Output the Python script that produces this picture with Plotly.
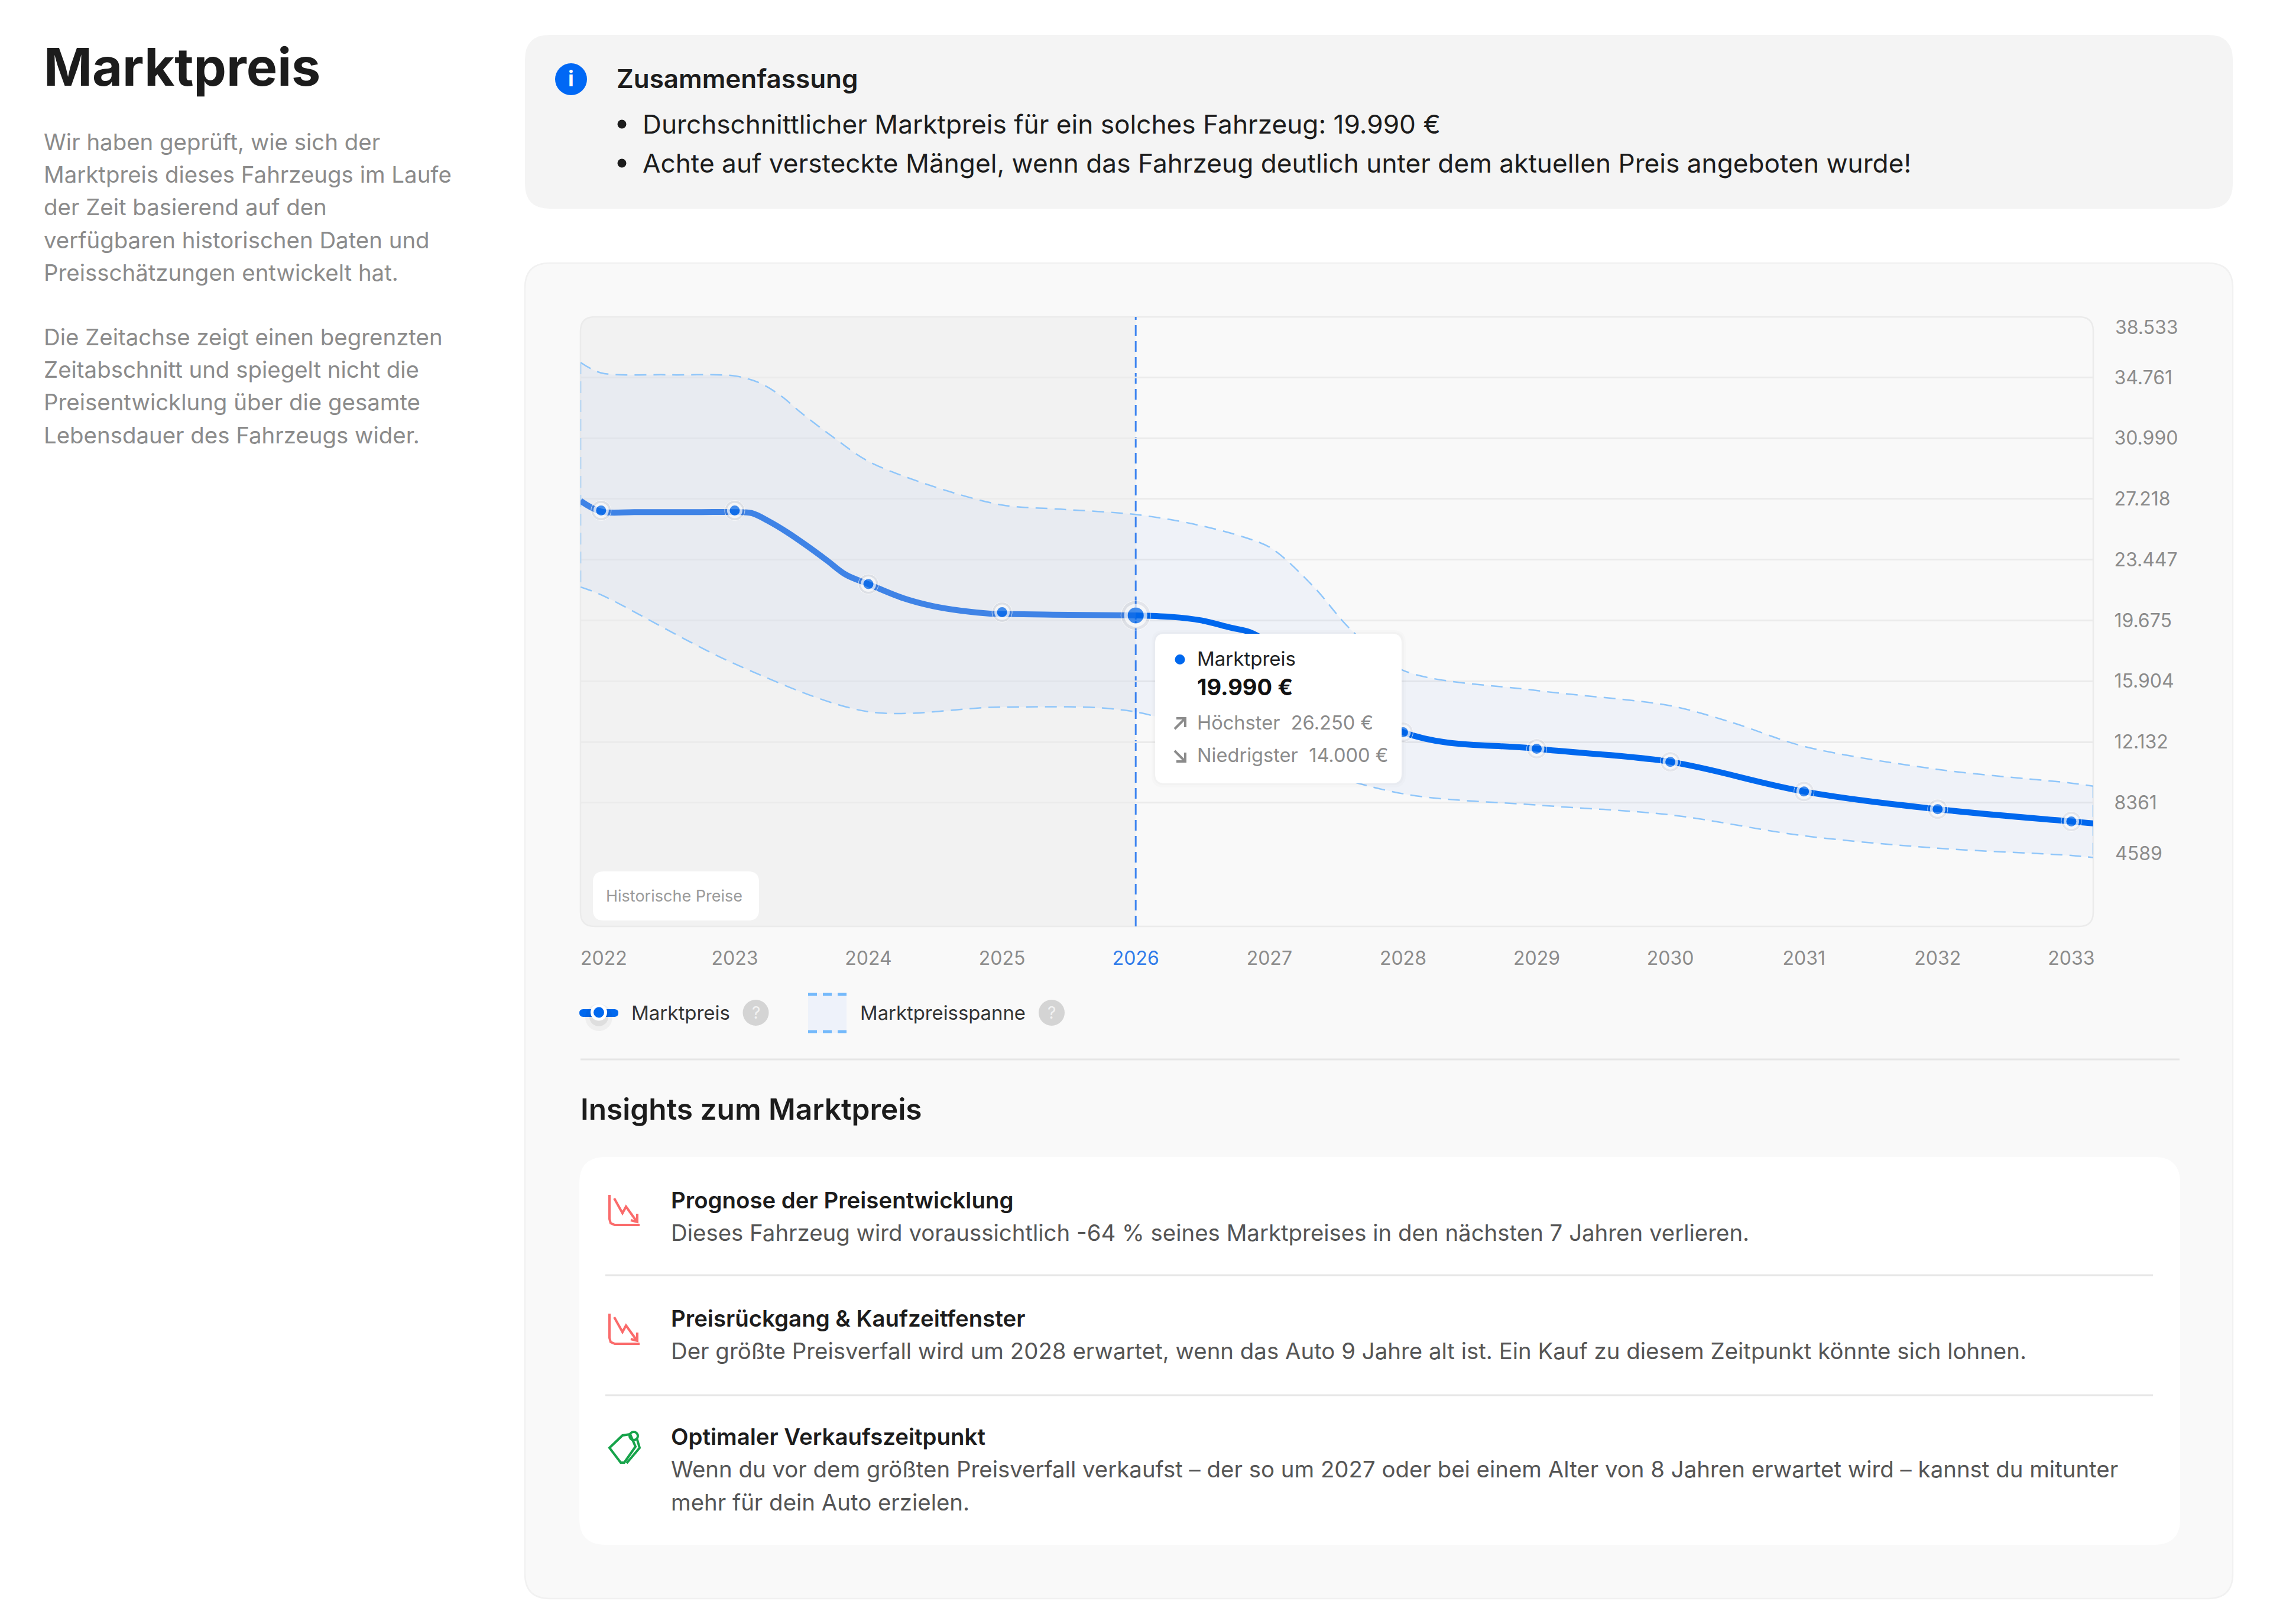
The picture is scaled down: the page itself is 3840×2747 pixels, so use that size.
# %% Imports
import plotly.graph_objects as go

# %% Data
W, H = 3840, 2747
FONT = "Inter"

BLUE = "#0068ee"
BLUE_HIST = "#3f83e6"
BAND_LINE = "#8fc6fa"
GREY = "#8b8b8b"
DARK = "#1c1c1c"
RED = "#fa6b6b"
GREEN = "#16a34a"

years = [2022, 2023, 2024, 2025, 2026, 2027, 2028, 2029, 2030, 2031, 2032, 2033]
x_left, x_right = 2021.846, 2033.164

market = [26500, 26500, 21930, 20190, 19990, 18000, 12740, 11710, 10900, 9060, 7960, 7200]

# curve readings between the years, the line is flat then drops in an S
market_hist_x = [2021.846, 2022, 2022.25, 2022.5, 2022.75, 2023, 2023.13, 2023.25, 2023.39, 2023.54, 2023.69, 2023.83,
                 2024, 2024.26, 2024.48, 2024.7, 2024.91, 2025, 2025.5, 2026]
market_hist_y = [27100, 26430, 26400, 26400, 26400, 26400, 26330, 25850, 25160, 24310, 23400, 22520,
                 21930, 21060, 20570, 20270, 20100, 20080, 20020, 19990]
market_next_x = [2026, 2026.26, 2026.49, 2026.71, 2026.85, 2027, 2028, 2029, 2030, 2031, 2032, 2033, 2033.164]
market_next_y = [19990, 19900, 19680, 19230, 18960, 18300, 12740, 11710, 10900, 9060, 7960, 7200, 7080]

high_x = [2021.846, 2022, 2022.5, 2023, 2023.19, 2023.35, 2023.5, 2023.74, 2024, 2024.49, 2025, 2025.44, 2026, 2026.42,
          2026.82, 2027.02, 2027.33, 2027.61, 2028, 2029, 2030, 2030.47, 2031, 2032, 2033, 2033.164]
high_y = [35690, 35040, 34920, 34850, 34400, 33590, 32540, 31030, 29550, 27980, 26840, 26580, 26250, 25680,
          24820, 24130, 21780, 19100, 16580, 15330, 14380, 13320, 11860, 10430, 9580, 9390]
low_x = [2021.846, 2022, 2023, 2024, 2025, 2026, 2027, 2028, 2029, 2030, 2031, 2032, 2033, 2033.164]
low_y = [21750, 21270, 16980, 14010, 14300, 14000, 11220, 8920, 8220, 7610, 6310, 5540, 5090, 4960]

y_ticks = [34761, 30990, 27218, 23447, 19675, 15904, 12132, 8361]
y_tick_labels = ["34.761", "30.990", "27.218", "23.447", "19.675", "15.904", "12.132", "8361"]
y_top, y_top_label = 38533, "38.533"
y_bottom, y_bottom_label = 4589, "4589"
y_min = 670

intro_1 = [
    "Wir haben geprüft, wie sich der",
    "Marktpreis dieses Fahrzeugs im Laufe",
    "der Zeit basierend auf den",
    "verfügbaren historischen Daten und",
    "Preisschätzungen entwickelt hat.",
]
intro_2 = [
    "Die Zeitachse zeigt einen begrenzten",
    "Zeitabschnitt und spiegelt nicht die",
    "Preisentwicklung über die gesamte",
    "Lebensdauer des Fahrzeugs wider.",
]
summary = [
    "Durchschnittlicher Marktpreis für ein solches Fahrzeug: 19.990 €",
    "Achte auf versteckte Mängel, wenn das Fahrzeug deutlich unter dem aktuellen Preis angeboten wurde!",
]
insights = [
    ("Prognose der Preisentwicklung", 2030,
     ["Dieses Fahrzeug wird voraussichtlich -64 % seines Marktpreises in den nächsten 7 Jahren verlieren."]),
    ("Preisrückgang & Kaufzeitfenster", 2230,
     ["Der größte Preisverfall wird um 2028 erwartet, wenn das Auto 9 Jahre alt ist. Ein Kauf zu diesem Zeitpunkt könnte sich lohnen."]),
    ("Optimaler Verkaufszeitpunkt", 2430,
     ["Wenn du vor dem größten Preisverfall verkaufst – der so um 2027 oder bei einem Alter von 8 Jahren erwartet wird – kannst du mitunter",
      "mehr für dein Auto erzielen."]),
]


# %% Helpers
def fx(x):
    return x / W


def fy(y):
    return 1 - y / H


def pt(x, y):
    return f"{fx(x):.6f},{fy(y):.6f}"


def rrect_path(x0, y0, x1, y1, r, right=True):
    # rounded box in page pixels, right=False keeps the right corners square
    rr = r if right else 0
    return (
        f"M{pt(x0 + r, y0)} L{pt(x1 - rr, y0)} Q{pt(x1, y0)} {pt(x1, y0 + rr)} "
        f"L{pt(x1, y1 - rr)} Q{pt(x1, y1)} {pt(x1 - rr, y1)} L{pt(x0 + r, y1)} "
        f"Q{pt(x0, y1)} {pt(x0, y1 - r)} L{pt(x0, y0 + r)} Q{pt(x0, y0)} {pt(x0 + r, y0)} Z"
    )


shapes = []
annotations = []


def box(x0, y0, x1, y1, r, fill, line=None, layer="below", right=True, width=2.5):
    shapes.append(dict(
        type="path", xref="paper", yref="paper", layer=layer,
        path=rrect_path(x0, y0, x1, y1, r, right), fillcolor=fill,
        line=dict(color=line or "rgba(0,0,0,0)", width=width),
    ))


def stroke(points, color, width=3, dash="solid", layer="below", close=False):
    path = "M" + " L".join(pt(x, y) for x, y in points) + (" Z" if close else "")
    shapes.append(dict(
        type="path", xref="paper", yref="paper", layer=layer, path=path,
        line=dict(color=color, width=width, dash=dash),
    ))


def dot(cx, cy, r, fill, layer="below", line=None, width=0):
    shapes.append(dict(
        type="circle", xref="paper", yref="paper", layer=layer,
        x0=fx(cx - r), x1=fx(cx + r), y0=fy(cy + r), y1=fy(cy - r), fillcolor=fill,
        line=dict(color=line or "rgba(0,0,0,0)", width=width),
    ))


def label(x, y, text, size, color, weight=400, xanchor="left"):
    annotations.append(dict(
        xref="paper", yref="paper", x=fx(x - 2 if xanchor == "left" else x), y=fy(y), text=text, showarrow=False,
        xanchor=xanchor, yanchor="middle", align="left",
        font=dict(family=FONT, size=size, color=color, weight=weight),
    ))


# %% Page furniture
box(888, 59, 3777, 353, 42, "#f4f4f4")
box(888, 445, 3777, 2704, 42, "#f9f9f9", "#f1f1f1")
box(982, 536, 1921, 1567, 24, "#f2f2f2", right=False)
box(982, 536, 3541, 1567, 24, "rgba(0,0,0,0)", "#ebebeb")
box(980, 1957, 3688, 2613, 44, "#ffffff")

label(74, 113, "Marktpreis", 88, DARK, 700)
for i, line in enumerate(intro_1):
    label(74, 240 + i * 55.2, line, 38.4, GREY)
for i, line in enumerate(intro_2):
    label(74, 570 + i * 55.2, line, 38.4, GREY)

dot(966, 134, 27, "#0068f5")
label(966, 133, "i", 36, "#ffffff", 700, xanchor="center")
label(1043, 133, "Zusammenfassung", 44, DARK, 600)
for y, line in zip([210, 276], summary):
    dot(1052, y, 7.5, DARK)
    label(1087, y, line, 44.2, DARK)

# legend
box(980, 1707, 1046, 1720, 6.5, BLUE)
dot(1013, 1721, 23, "rgba(0,0,0,0.04)")
dot(1013, 1720, 16, "rgba(0,0,0,0.07)")
dot(1013, 1712.5, 14, "#ffffff")
dot(1013, 1712.5, 9, BLUE)
label(1068, 1713, "Marktpreis", 33, "#333333")
dot(1278.5, 1713, 22, "#d4d4d4")
label(1278.5, 1713, "?", 28, "#f2f2f2", xanchor="center")
shapes.append(dict(type="rect", xref="paper", yref="paper", layer="below",
                   x0=fx(1367), x1=fx(1432), y0=fy(1747), y1=fy(1680),
                   fillcolor="#eef2fa", line=dict(width=0)))
stroke([(1367, 1682), (1432, 1682)], "#74b9fb", 5, "15px,10px")
stroke([(1367, 1745), (1432, 1745)], "#74b9fb", 5, "15px,10px")
label(1455, 1713, "Marktpreisspanne", 32.8, "#333333")
dot(1779, 1713, 22, "#d4d4d4")
label(1779, 1713, "?", 28, "#f2f2f2", xanchor="center")

stroke([(982, 1792), (3687, 1792)], "#e6e6e6", 3)
label(982, 1876, "Insights zum Marktpreis", 49.6, DARK, 600)

# insights
for title, y, lines in insights:
    label(1135, y, title, 38.4, DARK, 600)
    for i, line in enumerate(lines):
        label(1135, y + 55 + i * 55.5, line, 38.4, "#555555")
for y in [2157, 2360]:
    stroke([(1024, y), (3642, y)], "#e6e6e6", 3)

for dy in [0, 201]:
    stroke([(1031, 2021 + dy), (1031, 2062 + dy), (1033, 2069 + dy), (1040, 2072 + dy), (1082, 2072 + dy)], RED, 4)
    stroke([(1039, 2027 + dy), (1053, 2052 + dy), (1059, 2041 + dy), (1077, 2066 + dy)], RED, 4)
    stroke([(1067, 2064 + dy), (1078, 2067 + dy), (1078, 2053 + dy)], RED, 4)
stroke([(1031, 2449), (1053, 2428), (1066, 2426), (1075, 2447), (1056, 2474), (1050, 2474)], GREEN, 4, close=True)
stroke([(1060, 2475), (1082, 2449), (1077, 2432)], GREEN, 4)
dot(1072, 2429, 7, "rgba(0,0,0,0)", line=GREEN, width=4)

# history chip
box(1003, 1474, 1284, 1557, 18, "#ffffff")
label(1025, 1515, "Historische Preise", 27, "#9a9a9a")

# tooltip, sits over the traces
box(1948, 1066, 2378, 1332, 20, "rgba(0,0,0,0.012)", layer="above")
box(1951, 1069, 2375, 1328, 18, "rgba(0,0,0,0.015)", layer="above")
box(1954, 1072, 2371, 1325, 16, "#ffffff", layer="above")
dot(1996, 1115.5, 8.5, BLUE, layer="above")
label(2025, 1114, "Marktpreis", 33, "#222222")
label(2025, 1162, "19.990 €", 38, "#111111", 700)
stroke([(1987, 1233), (2005, 1215)], GREY, 4, layer="above")
stroke([(1990, 1215), (2005, 1215), (2005, 1230)], GREY, 4, layer="above")
label(2025, 1222, "Höchster  26.250 €", 32.6, GREY)
stroke([(1987, 1270), (2005, 1288)], GREY, 4, layer="above")
stroke([(1990, 1288), (2005, 1288), (2005, 1273)], GREY, 4, layer="above")
label(2025, 1277, "Niedrigster  14.000 €", 32.6, GREY)

# vertical marker for the current year
shapes.append(dict(type="line", xref="x", yref="paper", layer="between",
                   x0=years[4], x1=years[4], y0=fy(1567), y1=fy(536),
                   line=dict(color="#3f86f0", width=3, dash="18px,9px")))

# end labels of the y axis are pushed inside the frame
for value, text, shift in [(y_top, y_top_label, -18), (y_bottom, y_bottom_label, 17)]:
    annotations.append(dict(
        xref="paper", yref="y", x=fx(3576), y=value, yshift=shift, text=text, showarrow=False,
        xanchor="left", yanchor="middle", font=dict(family=FONT, size=32, color=GREY),
    ))

# %% Traces
fig = go.Figure()
band_line = dict(color=BAND_LINE, width=2.5, dash="20px,12px", shape="spline", smoothing=0.9)
fig.add_trace(go.Scatter(x=high_x, y=high_y, mode="lines", line=band_line, name="Höchster"))
fig.add_trace(go.Scatter(x=low_x, y=low_y, mode="lines", line=band_line, name="Niedrigster",
                         fill="tonexty", fillcolor="rgba(30,90,235,0.042)"))
for x_edge, top, bottom in [(high_x[0], high_y[0], low_y[0]), (high_x[-1], high_y[-1], low_y[-1])]:
    fig.add_trace(go.Scatter(x=[x_edge, x_edge], y=[top, bottom], mode="lines",
                             line=dict(color=BAND_LINE, width=2.5, dash="20px,12px")))

fig.add_trace(go.Scatter(x=market_hist_x, y=market_hist_y, mode="lines",
                         line=dict(color=BLUE_HIST, width=10, shape="spline", smoothing=1),
                         name="Marktpreis"))
fig.add_trace(go.Scatter(x=market_next_x, y=market_next_y, mode="lines",
                         line=dict(color=BLUE, width=10, shape="spline", smoothing=1),
                         name="Marktpreis"))
fig.add_trace(go.Scatter(x=years, y=market, mode="markers",
                         marker=dict(size=[50 if y == 2026 else 34 for y in years], color="rgba(0,0,0,0.07)")))
fig.add_trace(go.Scatter(x=years, y=market, mode="markers",
                         marker=dict(size=[33 if y == 2026 else 21.5 for y in years], color=BLUE,
                                     line=dict(color="#ffffff", width=[6 if y == 2026 else 4.5 for y in years]))))

# %% Layout
fig.update_traces(hoverinfo="skip", showlegend=False)
tick_text = [str(y) for y in years]
tick_text[0] = "\u00a0" + tick_text[0]
tick_text[4] = f'<span style="color:#2f7bea">{years[4]}</span>'
fig.update_layout(
    width=W, height=H, margin=dict(l=0, r=0, t=0, b=0, autoexpand=False), autosize=False,
    paper_bgcolor="#ffffff", plot_bgcolor="rgba(0,0,0,0)",
    font=dict(family=FONT), shapes=shapes, annotations=annotations,
    xaxis=dict(
        domain=[fx(982), fx(3541)], range=[x_left, x_right],
        tickvals=years, ticktext=tick_text,
        tickfont=dict(family=FONT, size=32, color=GREY),
        ticks="outside", ticklen=25, tickcolor="rgba(0,0,0,0)",
        showgrid=False, zeroline=False, showline=False,
    ),
    yaxis=dict(
        domain=[fy(1567.5), fy(535.5)], range=[y_min, y_top], side="right",
        tickvals=y_ticks, ticktext=y_tick_labels,
        tickfont=dict(family=FONT, size=32, color=GREY),
        ticks="outside", ticklen=28, tickcolor="rgba(0,0,0,0)",
        showgrid=True, gridcolor="#ebebeb", gridwidth=2.5, zeroline=False, showline=False,
    ),
)

fig.write_html(
    "out.html",
    config={"displayModeBar": False},
    post_script="document.body.style.margin='0';document.documentElement.style.overflow='hidden';",
)
